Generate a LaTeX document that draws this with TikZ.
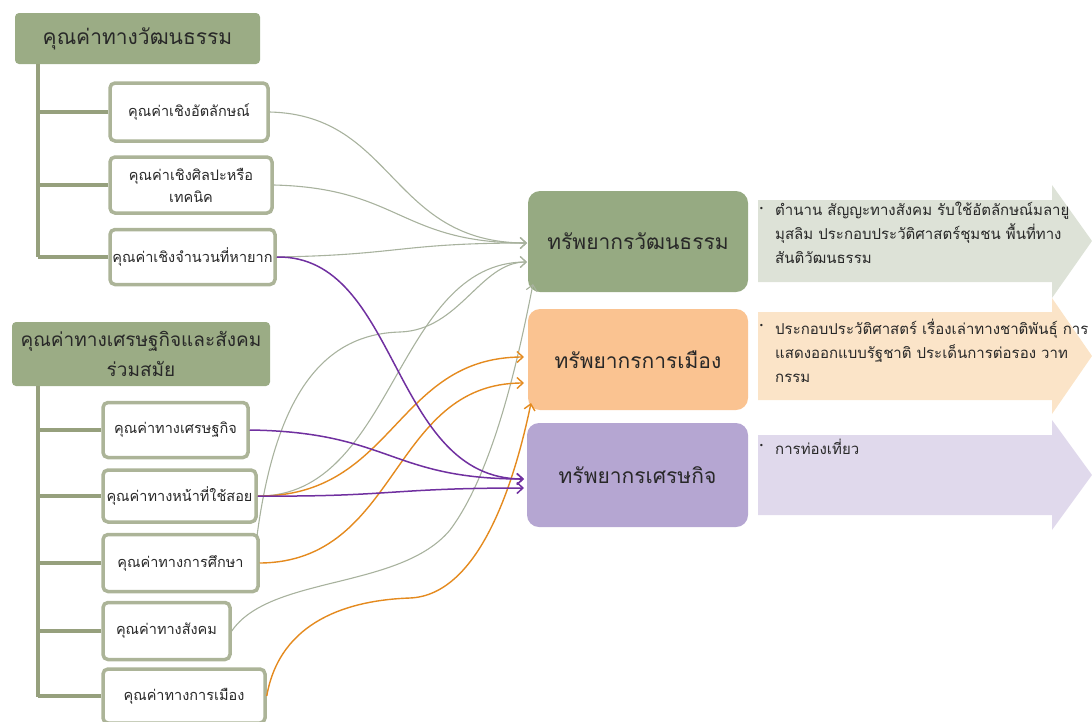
\documentclass[tikz,border=0pt]{standalone}
\usepackage{fontspec}
\newfontfamily\thai[Script=Thai]{Loma}
\newfontfamily\dv{DejaVu Sans}
\usetikzlibrary{arrows.meta}
\definecolor{hdrgreen}{RGB}{155,172,133}
\definecolor{trunkc}{RGB}{150,160,125}
\definecolor{boxedge}{RGB}{172,180,152}
\definecolor{resgreen}{RGB}{150,170,130}
\definecolor{resorange}{RGB}{250,195,145}
\definecolor{respurple}{RGB}{181,166,210}
\definecolor{argreen}{RGB}{221,226,215}
\definecolor{arorange}{RGB}{251,228,200}
\definecolor{arpurple}{RGB}{224,217,236}
\definecolor{lgray}{RGB}{168,178,158}
\definecolor{lpurple}{RGB}{112,48,160}
\definecolor{lorange}{RGB}{228,138,30}
\definecolor{txt}{RGB}{40,40,40}
\tikzset{
  hdr/.style={fill=hdrgreen, rounded corners=4pt, inner sep=0pt, align=center, text=txt},
  child/.style={draw=boxedge, line width=3.5pt, fill=white, rounded corners=5pt, align=center, inner sep=0pt, text=txt, font=\thai\fontsize{14.5}{22}\selectfont},
  res/.style={rounded corners=12pt, inner sep=0pt, text=txt, font=\thai\fontsize{21}{26}\selectfont},
  trunk/.style={draw=trunkc, line width=4.5pt},
  desc/.style={anchor=north west, inner sep=0pt, align=left, text=txt, font=\thai\fontsize{15}{24}\selectfont},
  bul/.style={anchor=north west, inner sep=0pt, text=txt, font=\dv\fontsize{8}{10}\selectfont},
  conng/.style={draw=lgray, line width=1.1pt, -{Straight Barb[length=6pt,width=11pt]}},
  connp/.style={draw=lpurple, line width=1.5pt, -{Straight Barb[length=6pt,width=11pt]}},
  conno/.style={draw=lorange, line width=1.4pt, -{Straight Barb[length=6pt,width=11pt]}},
}
\begin{document}
\begin{tikzpicture}[x=1pt,y=-1pt]
\useasboundingbox (0,0) rectangle (1092,721);
% background chevrons
\fill[argreen] (758,200) -- (1052,200) -- (1052,185) -- (1092,241) -- (1052,298) -- (1052,282) -- (758,282) -- cycle;
\fill[arorange] (758,312) -- (1052,312) -- (1052,298) -- (1092,356) -- (1052,414) -- (1052,400) -- (758,400) -- cycle;
\fill[arpurple] (758,435) -- (1052,435) -- (1052,420) -- (1092,475) -- (1052,530) -- (1052,515) -- (758,515) -- cycle;
% headers
\node[hdr, minimum width=245pt, minimum height=51pt, font=\thai\fontsize{21}{26}\selectfont] (h1) at (137.5,38.5) {คุณค่าทางวัฒนธรรม};
\node[hdr, minimum width=258pt, minimum height=64pt, font=\thai\fontsize{19}{30}\selectfont] (h2) at (141,354) {คุณค่าทางเศรษฐกิจและสังคม\\ร่วมสมัย};
% trunks
\coordinate (t1a) at (38,64);
\coordinate (t1b) at (38,257);
\coordinate (t2a) at (38,386);
\coordinate (t2b) at (38,697);
\draw[trunk] (t1a) -- (t1b);
\draw[trunk] (t2a) -- (t2b);
% child boxes
\node[child, minimum width=158pt, minimum height=58pt] (c1) at (189,112) {คุณค่าเชิงอัตลักษณ์};
\node[child, minimum width=162pt, minimum height=56pt] (c2) at (191,185) {คุณค่าเชิงศิลปะหรือ\\เทคนิค};
\node[child, minimum width=165pt, minimum height=55pt] (c3) at (192.5,257) {คุณค่าเชิงจำนวนที่หายาก};
\node[child, minimum width=145pt, minimum height=55pt] (d1) at (175.5,430) {คุณค่าทางเศรษฐกิจ};
\node[child, minimum width=153pt, minimum height=52pt] (d2) at (179.5,496) {คุณค่าทางหน้าที่ใช้สอย};
\node[child, minimum width=155pt, minimum height=57pt] (d3) at (180.5,563) {คุณค่าทางการศึกษา};
\node[child, minimum width=127pt, minimum height=57pt] (d4) at (166.5,631) {คุณค่าทางสังคม};
\node[child, minimum width=162pt, minimum height=54pt] (d5) at (184,696) {คุณค่าทางการเมือง};
% branches
\foreach \n in {c1,c2,c3,d1,d2,d3,d4,d5}{
  \draw[trunk] (\n.west) -- (38,0 |- \n.west);
}
% resource boxes
\node[res, fill=resgreen, minimum width=220pt, minimum height=101pt] (r1) at (638,241.5) {ทรัพยากรวัฒนธรรม};
\node[res, fill=resorange, minimum width=220pt, minimum height=101pt] (r2) at (638,359.5) {ทรัพยากรการเมือง};
\node[res, fill=respurple, minimum width=221pt, minimum height=104pt] (r3) at (637.5,475) {ทรัพยากรเศรษกิจ};
% descriptions
\node[bul] (b1) at (759,207) {•};
\node[desc] (e1) at (775,202) {ตำนาน สัญญะทางสังคม รับใช้อัตลักษณ์มลายู\\มุสลิม ประกอบประวัติศาสตร์ชุมชน พื้นที่ทาง\\สันติวัฒนธรรม};
\node[bul] (b2) at (759,324) {•};
\node[desc] (e2) at (775,319) {ประกอบประวัติศาสตร์ เรื่องเล่าทางชาติพันธุ์ การ\\แสดงออกแบบรัฐชาติ ประเด็นการต่อรอง วาท\\กรรม};
\node[bul] (b3) at (759,444) {•};
\node[desc] (e3) at (775,439) {การท่องเที่ยว};
% connector end points
\coordinate (g1) at (527,243);
\coordinate (g2) at (527,262);
\coordinate (g3) at (533,284);
\coordinate (o1) at (524,357);
\coordinate (o2) at (524,383);
\coordinate (o3) at (531,403);
\coordinate (p1) at (524,479);
\coordinate (p2) at (524,488);
\coordinate (d3ne) at (257,536);
% gray connectors
\draw[conng] (c1.east) .. controls (395,115) and (390,243) .. (g1);
\draw[conng] (c2.east) .. controls (400,188) and (400,243) .. (g1);
\draw[conng] (c3.east) .. controls (400,255) and (400,243) .. (g1);
\draw[conng] (d2.east) .. controls (395,497) and (395,262) .. (g2);
\draw[conng] (d3ne) .. controls (275,400) and (320,334) .. (400,332) .. controls (460,330) and (480,262) .. (g2);
\draw[conng] (d4.east) .. controls (270,575) and (400,590) .. (450,530) .. controls (495,470) and (520,350) .. (g3);
% orange connectors
\draw[conno] (d2.east) .. controls (395,497) and (395,357) .. (o1);
\draw[conno] (d3.east) .. controls (400,562) and (390,383) .. (o2);
\draw[conno] (d5.east) .. controls (280,620) and (350,600) .. (410,598) .. controls (480,595) and (515,480) .. (o3);
% purple connectors
\draw[connp] (c3.east) .. controls (400,255) and (390,479) .. (p1);
\draw[connp] (d1.east) .. controls (390,432) and (390,479) .. (p1);
\draw[connp] (d2.east) .. controls (390,497) and (390,488) .. (p2);
\end{tikzpicture}
\end{document}
